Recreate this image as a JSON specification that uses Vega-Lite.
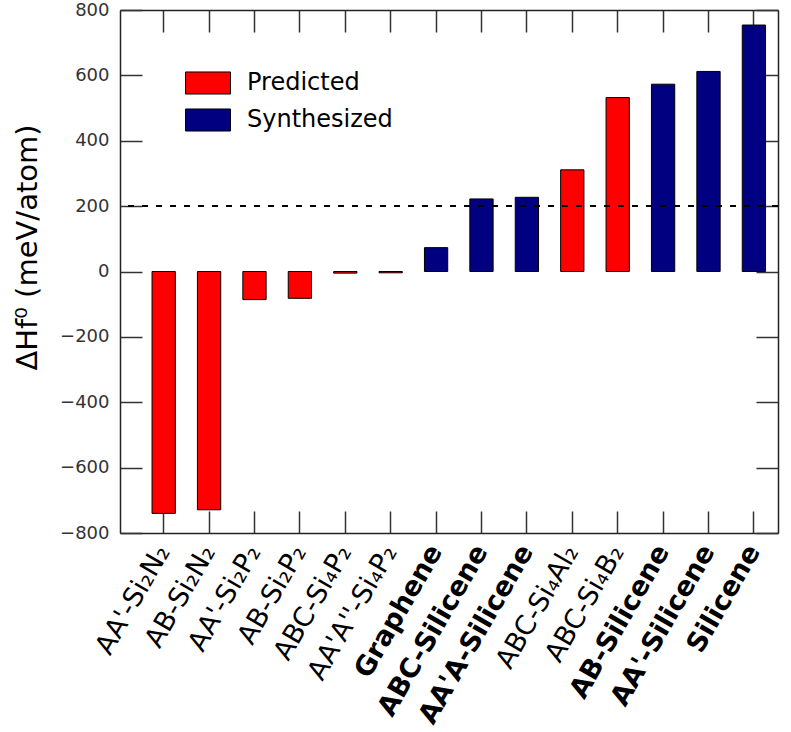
{
  "$schema": "https://vega.github.io/schema/vega-lite/v6.json",
  "autosize": "none",
  "padding": {"left": 120, "top": 10, "right": 13, "bottom": 199},
  "width": 658,
  "height": 523,
  "config": {"font": "DejaVu Sans", "view": {"stroke": null}},
  "data": {
    "values": [
      {"structure": "AA'-Si₂N₂", "dH": -740, "type": "Predicted"},
      {"structure": "AB-Si₂N₂", "dH": -729, "type": "Predicted"},
      {"structure": "AA'-Si₂P₂", "dH": -86, "type": "Predicted"},
      {"structure": "AB-Si₂P₂", "dH": -82, "type": "Predicted"},
      {"structure": "ABC-Si₄P₂", "dH": -5, "type": "Predicted"},
      {"structure": "AA'A''-Si₄P₂", "dH": -4, "type": "Predicted"},
      {"structure": "Graphene", "dH": 73, "type": "Synthesized"},
      {"structure": "ABC-Silicene", "dH": 222, "type": "Synthesized"},
      {"structure": "AA'A-Silicene", "dH": 227, "type": "Synthesized"},
      {"structure": "ABC-Si₄Al₂", "dH": 311, "type": "Predicted"},
      {"structure": "ABC-Si₄B₂", "dH": 532, "type": "Predicted"},
      {"structure": "AB-Silicene", "dH": 573, "type": "Synthesized"},
      {"structure": "AA'-Silicene", "dH": 612, "type": "Synthesized"},
      {"structure": "Silicene", "dH": 754, "type": "Synthesized"}
    ]
  },
  "resolve": {"axis": {"x": "independent", "y": "independent"}},
  "layer": [
    {
      "mark": {"type": "bar", "stroke": "black", "strokeWidth": 1},
      "encoding": {
        "x": {
          "field": "structure", "type": "nominal", "sort": null,
          "scale": {"paddingInner": 0.487, "paddingOuter": 0.49, "align": 0.72},
          "axis": {
            "orient": "bottom", "title": null, "labelAngle": -60, "labelAlign": "right", "labelBaseline": "middle",
            "labelFontSize": 27, "labelColor": "black",
            "labelFontWeight": {"condition": {"test": "indexof(datum.value,'ilicene')>=0 || datum.value=='Graphene'", "value": "bold"}, "value": "normal"},
            "tickSize": -22, "labelPadding": 36, "labelOverlap": false, "labelLimit": 400, "labelFlush": false,
            "domainColor": "#222222", "domainWidth": 1.5, "tickColor": "#333333", "tickWidth": 1.5
          }
        },
        "y": {
          "field": "dH", "type": "quantitative",
          "scale": {"domain": [-800, 800], "nice": false, "zero": false},
          "axis": {
            "orient": "left", "values": [-800, -600, -400, -200, 0, 200, 400, 600, 800],
            "title": "ΔHf⁰ (meV/atom)", "titleFontSize": 29, "titleFontWeight": "normal", "titleColor": "black",
            "titleAngle": 270, "titleX": -84, "titleY": 237, "titleBaseline": "alphabetic", "titleAlign": "center",
            "labelFontSize": 18, "labelColor": "#333333", "tickSize": -22, "labelPadding": 33, "grid": false,
            "domainColor": "#222222", "domainWidth": 1.5, "tickColor": "#333333", "tickWidth": 1.5, "labelFlush": false
          }
        },
        "color": {
          "field": "type", "type": "nominal",
          "scale": {"domain": ["Predicted", "Synthesized"], "range": ["#ff0000", "#000080"]},
          "legend": {
            "title": null, "orient": "none", "legendX": 65, "legendY": 50,
            "symbolType": "M-1,-0.49H1V0.49H-1Z", "symbolSize": 2025, "symbolStrokeColor": "black", "symbolStrokeWidth": 1,
            "symbolOpacity": 1, "labelFontSize": 24, "labelColor": "black", "labelOffset": 16, "rowPadding": -9
          }
        }
      }
    },
    {
      "mark": {"type": "bar", "opacity": 0},
      "encoding": {
        "x": {
          "field": "structure", "type": "nominal", "sort": null,
          "axis": {"orient": "top", "title": null, "labels": false, "tickSize": -22, "domainColor": "#222222", "domainWidth": 1.5, "tickColor": "#333333", "tickWidth": 1.5}
        },
        "y": {
          "field": "dH", "type": "quantitative",
          "axis": {"orient": "right", "title": null, "labels": false, "values": [-800, -600, -400, -200, 0, 200, 400, 600, 800], "tickSize": -22, "grid": false, "domainColor": "#222222", "domainWidth": 1.5, "tickColor": "#333333", "tickWidth": 1.5}
        }
      }
    },
    {
      "mark": {"type": "rule", "color": "black", "strokeWidth": 1.2, "strokeDash": [6, 8]},
      "encoding": {"y": {"datum": 200, "axis": null}}
    }
  ]
}
